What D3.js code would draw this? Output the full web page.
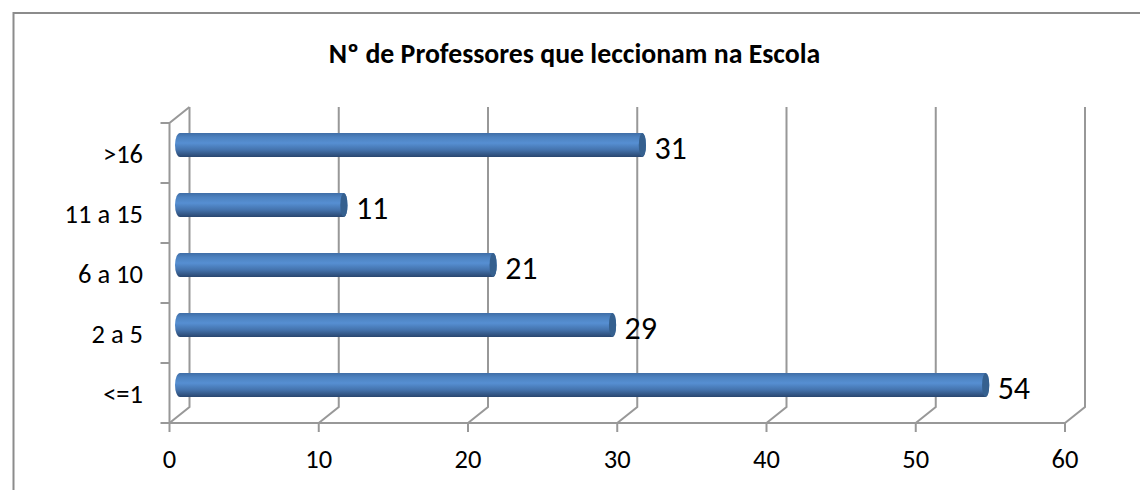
<!DOCTYPE html>
<html><head><meta charset="utf-8">
<style>html,body{margin:0;padding:0;background:#fff}svg{display:block}text{font-family:Carlito,Calibri,"Open Sans","Noto Sans",sans-serif;fill:#000}</style>
<script src="https://cdn.jsdelivr.net/npm/d3@7"></script></head><body>
<svg id="c" width="1140" height="490"></svg>
<script>
const titleText = "Nº de Professores que leccionam na Escola";
const categories = ["<=1","2 a 5","6 a 10","11 a 15",">16"];
const values = [54,29,21,11,31];
const xTicks = [0,10,20,30,40,50,60];

const svg = d3.select("#c");
const x = d3.scaleLinear().domain([0,60]).range([169.5,1065]);
const band = d3.scaleBand().domain(categories).range([423,123]);
const dx = 20, dy = -16;
const grey = "#989898";
const line = d3.line();

svg.append("path").attr("d",line([[13.5,490],[13.5,13],[1140,13]])).attr("fill","none").attr("stroke","#8c8c8c").attr("stroke-width",2);
svg.append("text").attr("x",574.5).attr("y",63).attr("text-anchor","middle").attr("font-size",27.8).attr("font-weight",700).text(titleText);

const g = svg.append("defs").append("linearGradient").attr("id","cyl").attr("x1",0).attr("x2",0).attr("y1",0).attr("y2",1);
[[0,"#3f6da6"],[0.18,"#4d82c0"],[0.42,"#568fd2"],[0.7,"#4473ad"],[1,"#29466f"]].forEach(d=>g.append("stop").attr("offset",d[0]).attr("stop-color",d[1]));

const grid = svg.append("g").attr("fill","none").attr("stroke",grey).attr("stroke-width",2);
const y0 = band.range()[0], y1 = band.range()[1];
xTicks.forEach(t=>{
  grid.append("path").attr("d",line([[x(t),y0],[x(t)+dx,y0+dy],[x(t)+dx,y1+dy]]));
  grid.append("path").attr("d",line([[x(t),y0],[x(t),y0+9]]));
});
grid.append("path").attr("d",line([[x(0),y0],[x(60),y0]]));
grid.append("path").attr("d",line([[x(0),y0],[x(0),y1],[x(0)+dx,y1+dy]]));
[...categories,null].forEach((c,i)=>{
  const y = y0 - i*band.step();
  grid.append("path").attr("d",line([[x(0)-9,y],[x(0),y]]));
});

const barH = 24, rx = 5, capRx = 3.6;
categories.forEach((c,i)=>{
  const v = values[i];
  const cy = band(c)+band.bandwidth()/2 - 8;
  const x0 = x(0)+dx/2-4.5, x1 = x(v)+dx/2+0.2;
  const b = svg.append("g");
  b.append("path").attr("d",`M${x0+rx},${cy-barH/2}L${x1},${cy-barH/2}A${capRx},${barH/2} 0 0 1 ${x1},${cy+barH/2}L${x0+rx},${cy+barH/2}A${rx},${barH/2} 0 0 1 ${x0+rx},${cy-barH/2}Z`).attr("fill","url(#cyl)");
  b.append("ellipse").attr("cx",x1).attr("cy",cy).attr("rx",capRx).attr("ry",barH/2).attr("fill","#35608f");
  svg.append("text").attr("x",x1+12).attr("y",cy+14).attr("font-size",32).text(v);
  svg.append("text").attr("x",143).attr("y",band(c)+band.bandwidth()/2+10).attr("text-anchor","end").attr("font-size",26.5).text(c);
});
xTicks.forEach(t=>svg.append("text").attr("x",x(t)).attr("y",468).attr("text-anchor","middle").attr("font-size",26.5).text(t));
</script></body></html>
